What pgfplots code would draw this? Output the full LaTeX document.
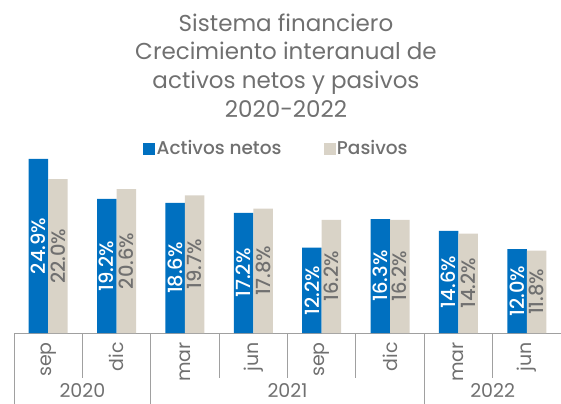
\documentclass[border=0pt]{standalone}
\usepackage{fontspec}
\setmainfont{Poppins}
\newfontfamily\medfont{Poppins Medium}
\usepackage{pgfplots}
\usepackage{pgfplotstable}
\pgfplotsset{compat=1.18}
\definecolor{cblue}{RGB}{0,112,192}
\definecolor{cbeige}{RGB}{217,211,199}
\definecolor{tgray}{RGB}{112,112,112}
\definecolor{lgray}{RGB}{160,160,160}
\pgfplotstableread{
x a b
0 24.9 22.0
1 19.2 20.6
2 18.6 19.7
3 17.2 17.8
4 12.2 16.2
5 16.3 16.2
6 14.6 14.2
7 12.0 11.8
}\data
\begin{document}
\begin{tikzpicture}
\useasboundingbox (0,0) rectangle (561bp,-404bp);
\begin{axis}[
  at={(14bp,-333bp)}, anchor=south west,
  scale only axis, width=547bp, height=174.75bp,
  xmin=-0.5, xmax=7.5, ymin=0, ymax=25,
  axis y line=none, axis x line*=bottom,
  x axis line style={draw=lgray, line width=0.8bp, -},
  xtick={0,...,7}, xticklabels={sep,dic,mar,jun,sep,dic,mar,jun},
  xtick style={draw=none},
  xticklabel shift=9bp,
  xticklabel style={font=\fontsize{19bp}{22bp}\selectfont, text=tgray, rotate=90, anchor=east, inner sep=0pt},
  clip=false,
  legend columns=2,
  legend style={at={(rel axis cs:0.236,1.057)}, anchor=west, draw=none, fill=none,
    font=\medfont\fontsize{18.5bp}{21bp}\selectfont, text=tgray, inner sep=0pt,
    /tikz/every even column/.append style={column sep=40bp}},
]
\addlegendimage{legend image code/.code={\fill[cblue] (0bp,-5.5bp) rectangle (11bp,5.5bp);}}
\addlegendentry{Activos netos}
\addlegendimage{legend image code/.code={\fill[cbeige] (0bp,-5.5bp) rectangle (11bp,5.5bp);}}
\addlegendentry{Pasivos}
\addplot[ybar, bar width=19.5bp, bar shift=-9.75bp, fill=cblue, draw=none, forget plot] table[x=x,y=a]{\data};
\addplot[ybar, bar width=19.5bp, bar shift=9.75bp, fill=cbeige, draw=none, forget plot] table[x=x,y=b]{\data};
\addplot[only marks, mark=none, forget plot, point meta=explicit symbolic,
  nodes near coords={\pgfplotspointmeta\%},
  every node near coord/.append style={rotate=90, anchor=center, inner sep=0pt, text=white, font=\medfont\fontsize{19.5bp}{22bp}\selectfont}]
  table[x expr=\thisrow{x}-0.1426, y expr=\thisrow{a}/2, meta=a]{\data};
\addplot[only marks, mark=none, forget plot, point meta=explicit symbolic,
  nodes near coords={\pgfplotspointmeta\%},
  every node near coord/.append style={rotate=90, anchor=center, inner sep=0pt, text=tgray, font=\medfont\fontsize{19.5bp}{22bp}\selectfont}]
  table[x expr=\thisrow{x}+0.1426, y expr=\thisrow{b}/2, meta=b]{\data};
\pgfplotsinvokeforeach{0.5,2.5,3.5,4.5,6.5}{\draw[lgray, line width=0.8bp] (axis cs:#1,0) -- ([yshift=-45bp]axis cs:#1,0);}
\pgfplotsinvokeforeach{-0.5,1.5,5.5}{\draw[lgray, line width=0.8bp] (axis cs:#1,0) -- ([yshift=-75bp]axis cs:#1,0);}
\node[anchor=north, inner sep=0pt, text=tgray, font=\fontsize{19bp}{22bp}\selectfont, yshift=-50bp] at (axis cs:0.5,0) {2020};
\node[anchor=north, inner sep=0pt, text=tgray, font=\fontsize{19bp}{22bp}\selectfont, yshift=-50bp] at (axis cs:3.5,0) {2021};
\node[anchor=north, inner sep=0pt, text=tgray, font=\fontsize{19bp}{22bp}\selectfont, yshift=-50bp] at (axis cs:6.5,0) {2022};
\end{axis}
\node[anchor=base, text=tgray, font=\fontsize{23bp}{26bp}\selectfont] at (286bp,-31bp) {Sistema financiero};
\node[anchor=base, text=tgray, font=\fontsize{23bp}{26bp}\selectfont] at (286bp,-59.5bp) {Crecimiento interanual de};
\node[anchor=base, text=tgray, font=\fontsize{23bp}{26bp}\selectfont] at (286bp,-88bp) {activos netos y pasivos};
\node[anchor=base, text=tgray, font=\fontsize{23bp}{26bp}\selectfont] at (286bp,-117bp) {2020-2022};
\end{tikzpicture}
\end{document}
